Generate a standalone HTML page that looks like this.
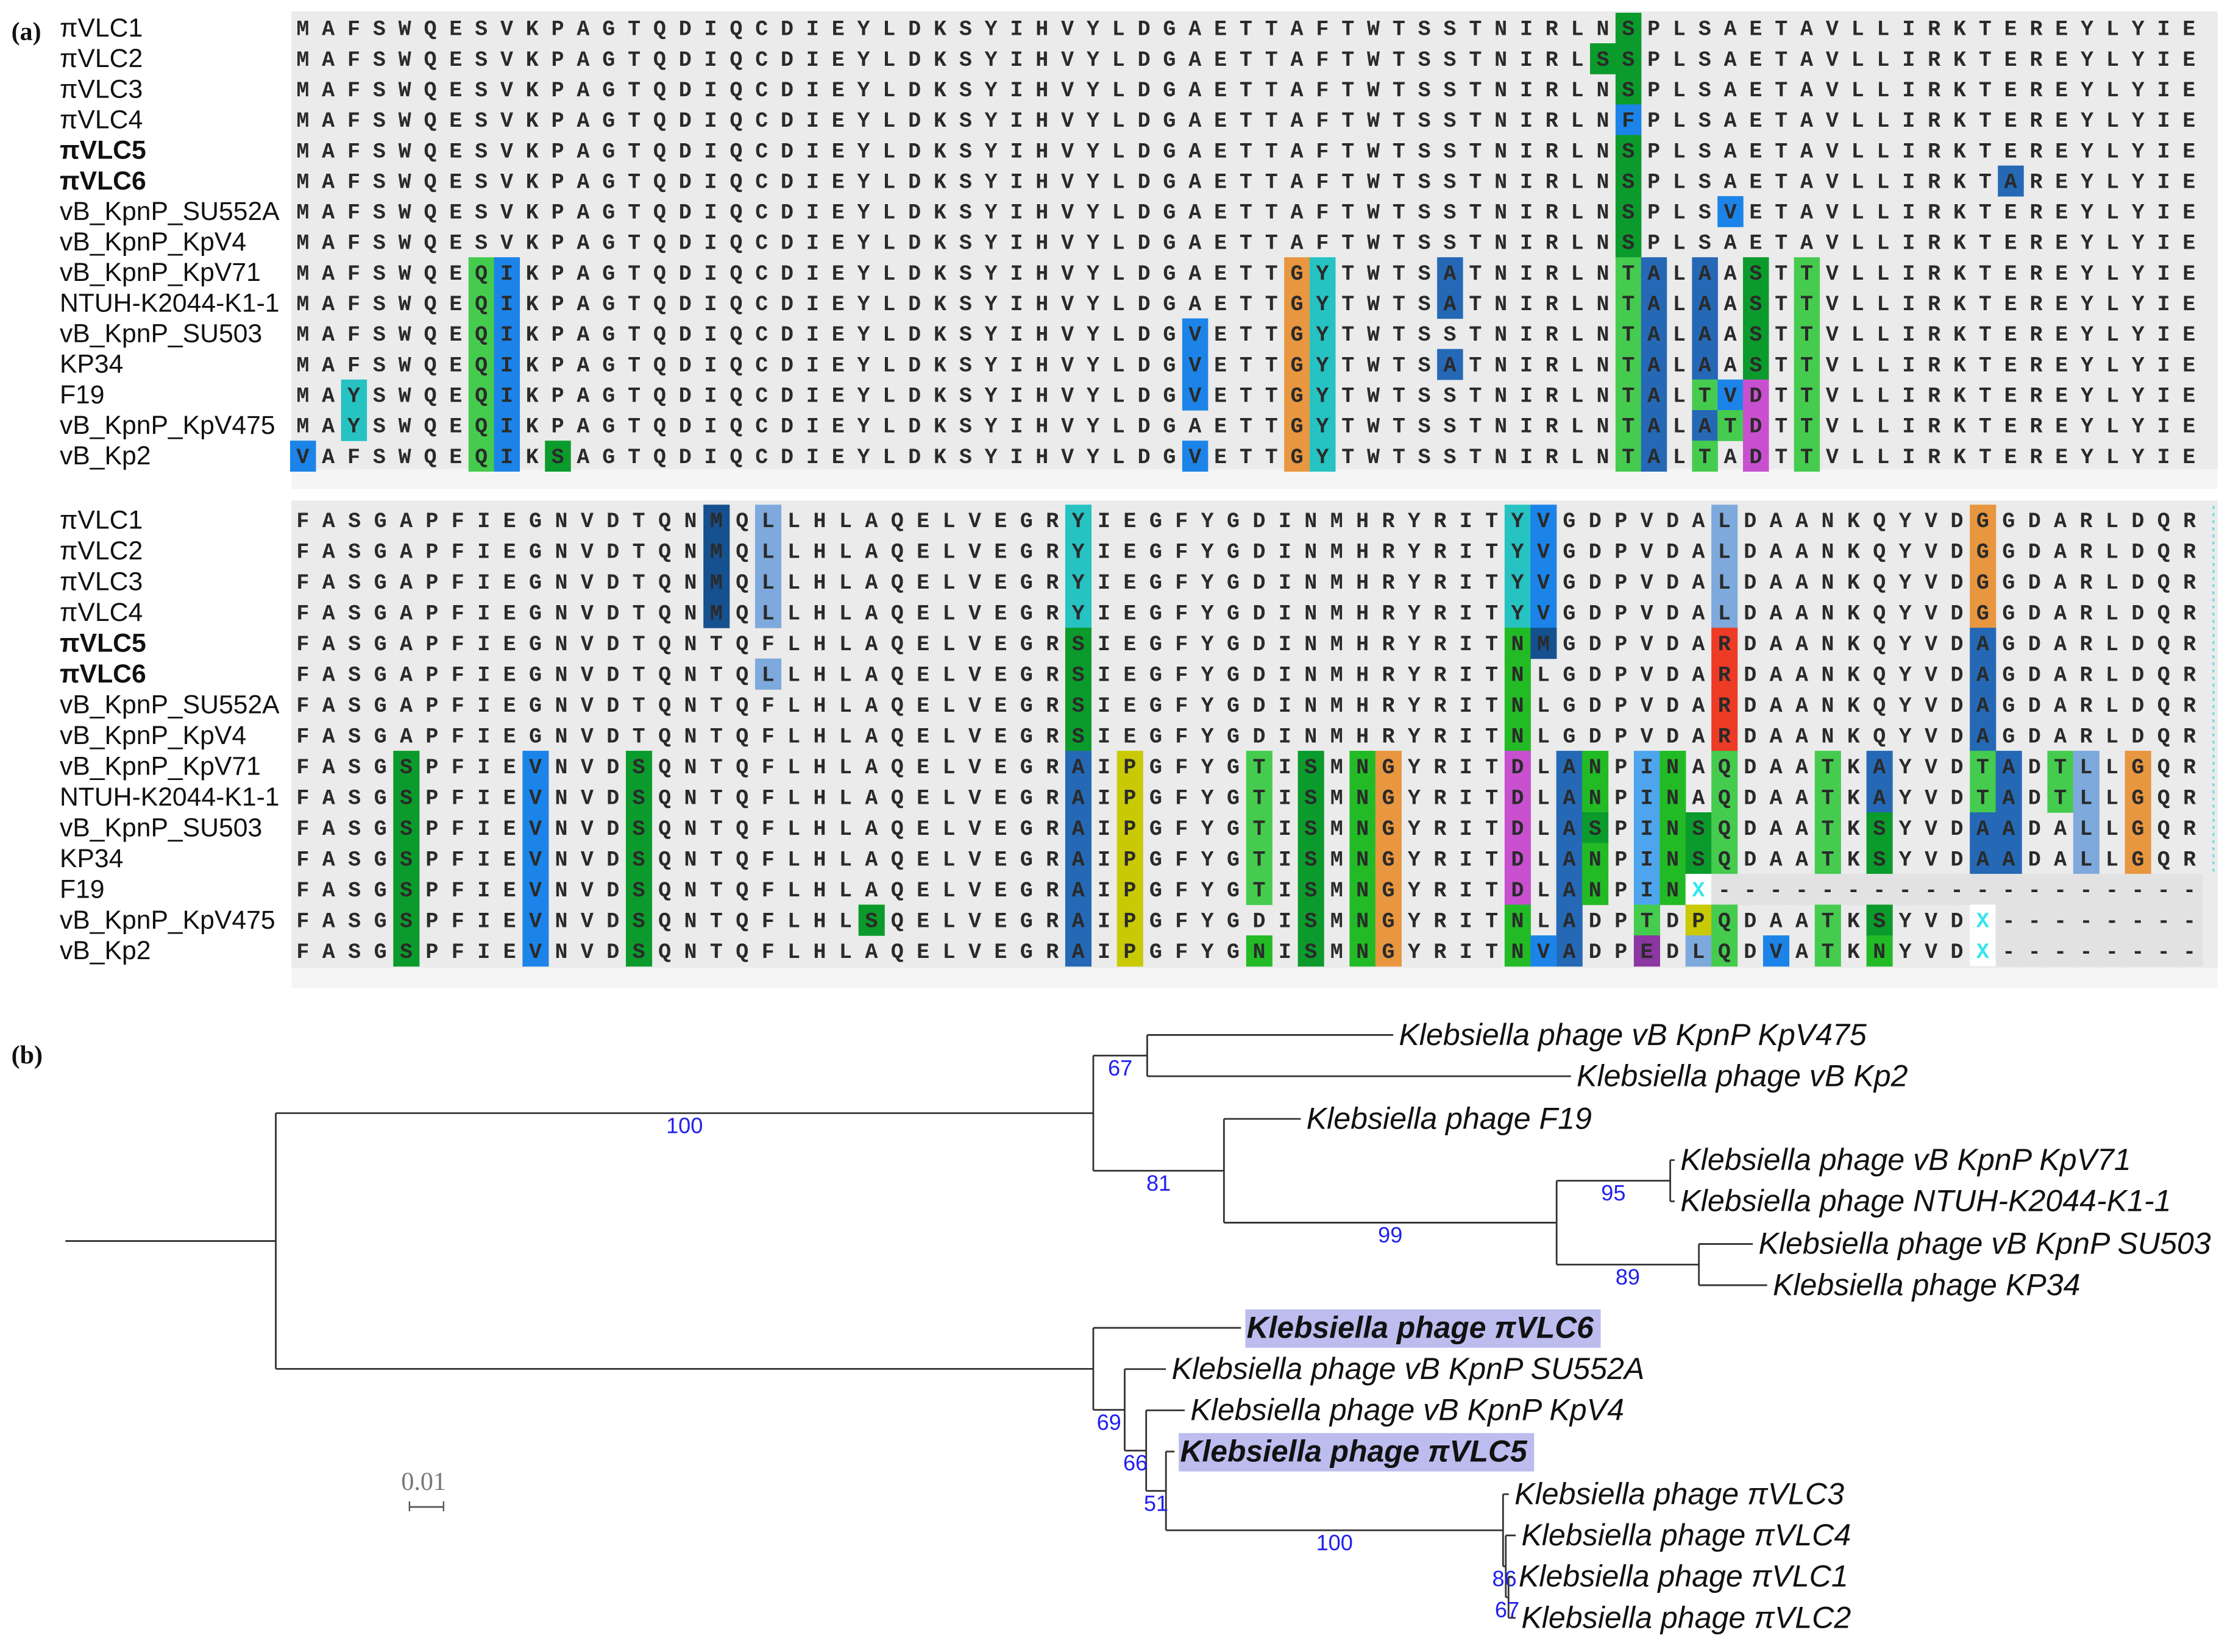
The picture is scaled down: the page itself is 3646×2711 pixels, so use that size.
<!DOCTYPE html>
<html><head><meta charset="utf-8">
<style>
html,body{margin:0;padding:0;background:#fff;}
svg{display:block;}
.lab{font-family:"Liberation Sans",Arial,sans-serif;font-size:18.3px;fill:#111;}
.aa{font-family:"Liberation Mono",monospace;font-size:15px;font-weight:bold;fill:#2a2a2a;text-anchor:middle;}
.leaf{font-family:"Liberation Sans",Arial,sans-serif;font-size:21.5px;font-style:italic;fill:#111;}
.sup{font-family:"Liberation Sans",Arial,sans-serif;font-size:15.5px;fill:#2020ee;text-anchor:middle;}
.panel{font-family:"Liberation Serif",serif;font-size:18px;font-weight:bold;fill:#111;}
</style></head>
<body>
<svg id="fig" width="3646" height="2711" viewBox="0 0 1563 1162" preserveAspectRatio="none" xmlns="http://www.w3.org/2000/svg">
<rect x="0" y="0" width="1563" height="1162" fill="#fff"/>
<text class="panel" x="8" y="28">(a)</text>
<text class="panel" x="8" y="748">(b)</text>
<g id="aln"></g>
<g id="tree" transform="translate(-2,-3)"></g>
<g>
<text x="298" y="1048" style="font-family:'Liberation Serif',serif;font-size:18px;fill:#777;text-anchor:middle">0.01</text>
<line x1="288" y1="1060" x2="312" y2="1060" stroke="#555" stroke-width="1.2"/>
<line x1="288" y1="1056" x2="288" y2="1063" stroke="#555" stroke-width="1"/>
<line x1="312" y1="1056" x2="312" y2="1063" stroke="#555" stroke-width="1"/>
</g>
</svg>
<script>
const NS="http://www.w3.org/2000/svg";
const rowNames=["πVLC1","πVLC2","πVLC3","πVLC4","πVLC5","πVLC6","vB_KpnP_SU552A","vB_KpnP_KpV4","vB_KpnP_KpV71","NTUH-K2044-K1-1","vB_KpnP_SU503","KP34","F19","vB_KpnP_KpV475","vB_Kp2"];
const boldRows=[4,5];
const colors={g:"#0b9b2c",l:"#45cc4f",L:"#22bb26",b:"#1c84e8",d:"#2569b6",D:"#15508f",p:"#7ea9dc",c:"#27c2c2",o:"#e8963f",m:"#c850cf",y:"#c9c906",r:"#ee3b25",P:"#8b36a1",q:"#4ea5ee"};
// Block 1
const base1="MAFSWQESVKPAGTQDIQCDIEYLDKSYIHVYLDGAETTAFTWTSSTNIRLNSPLSAETAVLLIRKTEREYLYIE";
const c1=[[7,"Q","l"],[8,"I","b"],[39,"G","o"],[40,"Y","c"],[52,"T","l"],[53,"A","d"],[59,"T","l"]];
const mut1=[
 [[52,"S","g"]],
 [[51,"S","g"],[52,"S","g"]],
 [[52,"S","g"]],
 [[52,"F","b"]],
 [[52,"S","g"]],
 [[52,"S","g"],[67,"A","d"]],
 [[52,"S","g"],[56,"V","b"]],
 [[52,"S","g"]],
 c1.concat([[45,"A","d"],[55,"A","d"],[57,"S","g"]]),
 c1.concat([[45,"A","d"],[55,"A","d"],[57,"S","g"]]),
 c1.concat([[35,"V","b"],[55,"A","d"],[57,"S","g"]]),
 c1.concat([[35,"V","b"],[45,"A","d"],[55,"A","d"],[57,"S","g"]]),
 c1.concat([[2,"Y","c"],[35,"V","b"],[55,"T","l"],[56,"V","b"],[57,"D","m"]]),
 c1.concat([[2,"Y","c"],[55,"A","d"],[56,"T","l"],[57,"D","m"]]),
 c1.concat([[0,"V","b"],[10,"S","g"],[35,"V","b"],[55,"T","l"],[57,"D","m"]])
];
// Block 2
const b2base="FASGAPFIEGNVDTQNMQLLHLAQELVEGRYIEGFYGDINMHRYRITYVGDPVDALDAANKQYVDGGDARLDQR";
const b2v="FASGSPFIEVNVDSQNTQFLHLAQELVEGRAIPGFYGTISMNGYRIT";
const seq2=[b2base,b2base,b2base,b2base,
 "FASGAPFIEGNVDTQNTQFLHLAQELVEGRSIEGFYGDINMHRYRITNMGDPVDARDAANKQYVDAGDARLDQR",
 "FASGAPFIEGNVDTQNTQLLHLAQELVEGRSIEGFYGDINMHRYRITNLGDPVDARDAANKQYVDAGDARLDQR",
 "FASGAPFIEGNVDTQNTQFLHLAQELVEGRSIEGFYGDINMHRYRITNLGDPVDARDAANKQYVDAGDARLDQR",
 "FASGAPFIEGNVDTQNTQFLHLAQELVEGRSIEGFYGDINMHRYRITNLGDPVDARDAANKQYVDAGDARLDQR",
 b2v+"DLANPINAQDAATKAYVDTADTLLGQR",
 b2v+"DLANPINAQDAATKAYVDTADTLLGQR",
 b2v+"DLASPINSQDAATKSYVDAADALLGQR",
 b2v+"DLANPINSQDAATKSYVDAADALLGQR",
 b2v+"DLANPINX-------------------",
 "FASGSPFIEVNVDSQNTQFLHLSQELVEGRAIPGFYGDISMNGYRITNLADPTDPQDAATKSYVDX--------",
 "FASGSPFIEVNVDSQNTQFLHLAQELVEGRAIPGFYGNISMNGYRITNVADPEDLQDVATKNYVDX--------"
];
const v2=[[4,"g"],[9,"b"],[13,"g"],[30,"d"],[32,"y"],[39,"g"],[41,"L"],[42,"o"],[49,"d"]];
const vlc=[[16,"D"],[18,"p"],[30,"c"],[47,"c"],[48,"b"],[55,"p"],[65,"o"]];
const col2=[vlc,vlc,vlc,vlc,
 [[30,"g"],[47,"L"],[48,"D"],[55,"r"],[65,"d"]],
 [[18,"p"],[30,"g"],[47,"L"],[55,"r"],[65,"d"]],
 [[30,"g"],[47,"L"],[55,"r"],[65,"d"]],
 [[30,"g"],[47,"L"],[55,"r"],[65,"d"]],
 v2.concat([[37,"l"],[47,"m"],[50,"L"],[52,"q"],[53,"L"],[55,"l"],[59,"l"],[61,"d"],[65,"l"],[66,"d"],[68,"l"],[69,"p"],[71,"o"]]),
 v2.concat([[37,"l"],[47,"m"],[50,"L"],[52,"q"],[53,"L"],[55,"l"],[59,"l"],[61,"d"],[65,"l"],[66,"d"],[68,"l"],[69,"p"],[71,"o"]]),
 v2.concat([[37,"l"],[47,"m"],[50,"g"],[52,"q"],[53,"L"],[54,"g"],[55,"l"],[59,"l"],[61,"g"],[65,"d"],[66,"d"],[69,"p"],[71,"o"]]),
 v2.concat([[37,"l"],[47,"m"],[50,"L"],[52,"q"],[53,"L"],[54,"g"],[55,"l"],[59,"l"],[61,"g"],[65,"d"],[66,"d"],[69,"p"],[71,"o"]]),
 v2.concat([[37,"l"],[47,"m"],[50,"L"],[52,"q"],[53,"L"]]),
 v2.concat([[22,"g"],[47,"L"],[52,"l"],[54,"y"],[55,"l"],[59,"l"],[61,"g"]]),
 v2.concat([[37,"L"],[47,"L"],[48,"b"],[52,"P"],[54,"p"],[55,"l"],[57,"b"],[59,"l"],[61,"L"]])
];
function mk(tag,attrs,parent){const e=document.createElementNS(NS,tag);for(const k in attrs)e.setAttribute(k,attrs[k]);parent.appendChild(e);return e;}
const aln=document.getElementById("aln");
function drawBlock(seqs,cols,x0,dx,y0,dy,bgTop,bgBot,bi){
  const g=mk("g",{},aln);
  
  
  mk("rect",{x:205,y:bgTop,width:1355,height:bgBot-bgTop,fill:"#ebebeb"},g);
  mk("rect",{x:205,y:bgBot,width:1355,height:14,fill:"#f5f5f5"},g);
  seqs.forEach((s,r)=>{
    const cy=y0+r*dy;
    const lt=mk("text",{class:"lab",x:42,y:cy+6},g);
    lt.textContent=rowNames[r];
    if(boldRows.includes(r)) lt.setAttribute("font-weight","bold");
    
    
    (cols[r]||[]).forEach(([c,k])=>{
      mk("rect",{x:x0+c*dx-dx/2,y:cy-dy/2,width:dx+0.3,height:dy+0.3,fill:colors[k]},g);
    });
    for(let i=0;i<s.length;i++){
      const ch=s[i];
      if(ch==="X"){mk("rect",{x:x0+i*dx-dx/2,y:cy-dy/2,width:dx,height:dy,fill:"#fff"},g);}
      if(ch==="-"){mk("rect",{x:x0+i*dx-dx/2,y:cy-dy/2,width:dx+0.3,height:dy+0.3,fill:"#e2e2e2"},g);}
      const t=mk("text",{class:"aa",x:x0+i*dx,y:cy+5},g);
      t.textContent=ch;
      if(ch==="X") t.setAttribute("style","fill:#33e6ee");
    }
  });
}
const seq1=[],cols1=[];
mut1.forEach(m=>{const a=base1.split("");const cl=[];m.forEach(([c,ch,k])=>{a[c]=ch;cl.push([c,k]);});seq1.push(a.join(""));cols1.push(cl);});
drawBlock(seq1,cols1,213,17.93,19.7,21.5,8,330,1);
drawBlock(seq2,col2,213,18.18,365.8,21.64,352,681,2);
mk("line",{x1:1557,y1:356,x2:1557,y2:616,stroke:"#4fe0e6","stroke-dasharray":"2,3","stroke-width":1.2},aln);

// Tree
const nodeIds=["R","A","A1","KpV475","Kp2","A2","F19","A3","A4","KpV71","NTUH","A5","SU503","KP34","B","VLC6","B1","SU552A","B2","KpV4","B3","VLC5","B4","VLC3","B5","VLC4","B6","VLC1","VLC2"];
const parents=[null,"R","A","A1","A1","A","A2","A2","A3","A4","A4","A3","A5","A5","R","B","B","B1","B1","B2","B2","B3","B3","B4","B4","B5","B5","B6","B6"];
const branchLens=[0,0.2396,0.0158,0.0721,0.1242,0.0383,0.0225,0.0975,0.0333,0.0013,0.0013,0.0417,0.0158,0.02,0.2396,0.0433,0.0092,0.0121,0.0063,0.0113,0.0058,0.0025,0.0988,0.0017,0.0008,0.0029,0.0008,0.0013,0.0021];
const supports=[null,100,67,null,null,81,null,99,95,null,null,89,null,null,null,null,69,null,66,null,51,null,100,null,86,null,67,null,null];
const leafYs={KpV475:731,Kp2:760,F19:790,KpV71:819,NTUH:848,SU503:878,KP34:907,VLC6:937,SU552A:966,KpV4:995,VLC5:1024,VLC3:1054,VLC4:1083,VLC1:1112,VLC2:1141};
const leafLabels={KpV475:"Klebsiella phage vB KpnP KpV475",Kp2:"Klebsiella phage vB Kp2",F19:"Klebsiella phage F19",KpV71:"Klebsiella phage vB KpnP KpV71",NTUH:"Klebsiella phage NTUH-K2044-K1-1",SU503:"Klebsiella phage vB KpnP SU503",KP34:"Klebsiella phage KP34",VLC6:"Klebsiella phage πVLC6",SU552A:"Klebsiella phage vB KpnP SU552A",KpV4:"Klebsiella phage vB KpnP KpV4",VLC5:"Klebsiella phage πVLC5",VLC3:"Klebsiella phage πVLC3",VLC4:"Klebsiella phage πVLC4",VLC1:"Klebsiella phage πVLC1",VLC2:"Klebsiella phage πVLC2"};
const highlighted=["VLC6","VLC5"];
const xScale=d=>196+d*2400;
const tree=document.getElementById("tree");
const depth={},ypos={},kids={};
nodeIds.forEach((id,i)=>{const p=parents[i];depth[id]=(p?depth[p]:0)+branchLens[i];if(p){(kids[p]=kids[p]||[]).push(id);}});
function gy(id){if(leafYs[id]!==undefined)return ypos[id]=leafYs[id];const ys=kids[id].map(gy);return ypos[id]=(Math.min(...ys)+Math.max(...ys))/2;}
gy("R");
mk("line",{x1:48,y1:ypos.R,x2:xScale(0),y2:ypos.R,stroke:"#333","stroke-width":1.2},tree);
nodeIds.forEach((id,i)=>{
  const p=parents[i];
  if(kids[id]){const ys=kids[id].map(k=>ypos[k]);
    const v=mk("line",{x1:xScale(depth[id]),y1:Math.min(...ys),x2:xScale(depth[id]),y2:Math.max(...ys),stroke:"#333","stroke-width":1.2},tree);
    
    }
  if(p){
    const h=mk("line",{x1:xScale(depth[p]),y1:ypos[id],x2:xScale(depth[id]),y2:ypos[id],stroke:"#333","stroke-width":1.2},tree);
    
    
    if(supports[i]!==null){
      const s=mk("text",{class:"sup",x:(xScale(depth[p])+xScale(depth[id]))/2,y:ypos[id]+14},tree);
      s.textContent=supports[i];
      
      
    }
  }
  if(leafLabels[id]){
    const lx=xScale(depth[id])+4,ly=ypos[id]+7;
    const hl=highlighted.includes(id);
    if(hl){mk("rect",{x:lx-1,y:ypos[id]-13,width:250,height:27,fill:"#bcbcee"},tree);}
    const t=mk("text",{class:"leaf",x:lx,y:ly},tree);
    t.textContent=leafLabels[id];
    if(hl){t.setAttribute("font-weight","bold");t.setAttribute("textLength","244");t.setAttribute("lengthAdjust","spacingAndGlyphs");}
    
    
  }
});
</script>
</body></html>
